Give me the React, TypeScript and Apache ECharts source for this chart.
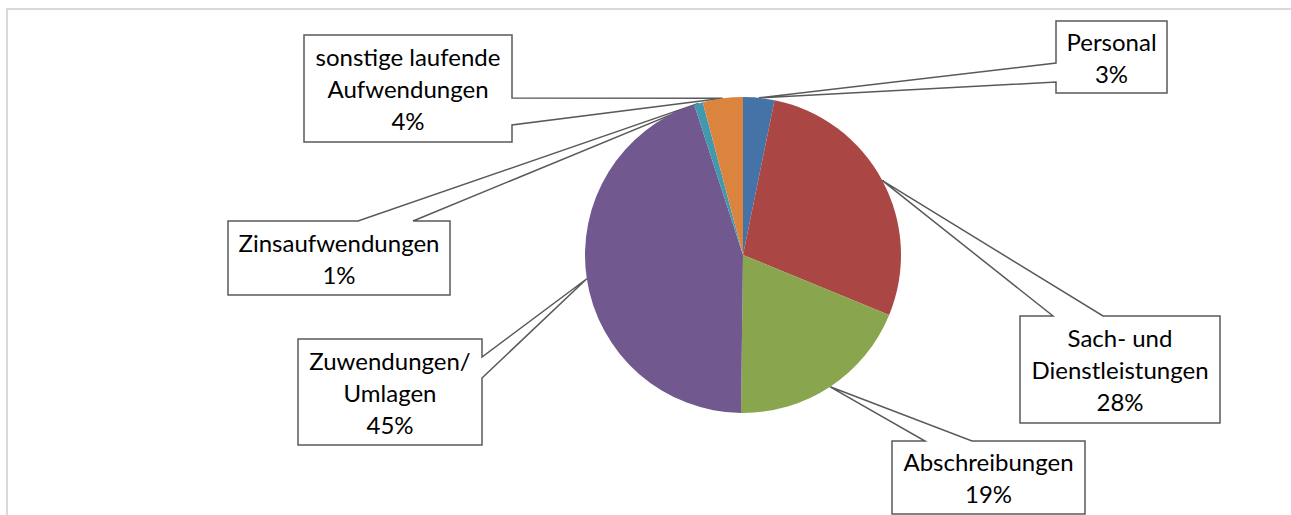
import React, { useEffect, useRef } from "react";
import * as echarts from "echarts";

const categories = [
  "Personal",
  "Sach- und Dienstleistungen",
  "Abschreibungen",
  "Zuwendungen/Umlagen",
  "Zinsaufwendungen",
  "sonstige laufende Aufwendungen",
];
const labelTexts = [
  "Personal",
  "Sach- und\nDienstleistungen",
  "Abschreibungen",
  "Zuwendungen/\nUmlagen",
  "Zinsaufwendungen",
  "sonstige laufende\nAufwendungen",
];
const values = [3.2, 28.0, 19.0, 44.8, 0.9, 4.1];
const colors = ["#4572A7", "#AA4643", "#89A54E", "#71588F", "#4198AF", "#DB843D"];

// Callout boxes (layout): x, y, w, h, side where the pointer attaches, and the pointer base span along that side
const callouts = [
  { x: 1056, y: 21, w: 111, h: 72, side: "left", from: 63, to: 82 },
  { x: 1020, y: 316, w: 200, h: 107, side: "top", from: 1053, to: 1103 },
  { x: 892, y: 441, w: 193, h: 73, side: "top", from: 925, to: 972 },
  { x: 298, y: 339, w: 184, h: 106, side: "right", from: 357, to: 378 },
  { x: 228, y: 221, w: 222, h: 74, side: "top", from: 358, to: 413 },
  { x: 304, y: 35, w: 208, h: 107, side: "right", from: 98, to: 125 },
];

const CX = 743;
const CY = 255;
const R = 158;

function tipPoint(i: number): number[] {
  const total = values.reduce((a, b) => a + b, 0);
  let start = 0;
  for (let k = 0; k < i; k++) start += values[k];
  const mid = ((start + values[i] / 2) / total) * Math.PI * 2;
  return [CX + R * Math.sin(mid), CY - R * Math.cos(mid)];
}

function outline(i: number, tip: number[]): number[][] {
  const c = callouts[i];
  const { x, y, w, h } = c;
  if (c.side === "left") {
    return [tip, [x, c.from], [x, y], [x + w, y], [x + w, y + h], [x, y + h], [x, c.to], tip];
  }
  if (c.side === "right") {
    return [tip, [x + w, c.from], [x + w, y], [x, y], [x, y + h], [x + w, y + h], [x + w, c.to], tip];
  }
  return [tip, [c.from, y], [x, y], [x, y + h], [x + w, y + h], [x + w, y], [c.to, y], tip];
}

export default function App() {
  const ref = useRef<HTMLDivElement>(null);
  useEffect(() => {
    document.body.style.margin = "0";
    if (!ref.current) return;
    const chart = echarts.init(ref.current, null, { renderer: "svg" });
    chart.setOption({
      animation: false,
      backgroundColor: "#ffffff",
      graphic: [
        {
          type: "rect",
          shape: { x: 7, y: 9, width: 1400, height: 700 },
          style: { fill: "none", stroke: "#D9D9D9", lineWidth: 2 },
          silent: true,
          z: -10,
        },
      ],
      series: [
        {
          type: "pie",
          center: [CX, CY],
          radius: R,
          startAngle: 90,
          clockwise: true,
          silent: true,
          avoidLabelOverlap: false,
          data: categories.map((name, i) => ({
            name,
            value: values[i],
            itemStyle: { color: colors[i] },
          })),
          itemStyle: { borderWidth: 0 },
          label: {
            show: true,
            position: "outside",
            formatter: (p: any) => `${labelTexts[p.dataIndex]}\n${Math.round(p.percent)}%`,
            fontFamily: "Lato",
            fontSize: 24,
            lineHeight: 32,
            color: "#000000",
            align: "center",
          },
          labelLine: {
            show: true,
            smooth: false,
            lineStyle: { color: "#595959", width: 1.5 },
          },
          labelLayout: (params: any) => {
            const i = params.dataIndex;
            const c = callouts[i];
            const tip = tipPoint(i);
            return {
              x: c.x + c.w / 2,
              y: c.y + c.h / 2,
              align: "center",
              verticalAlign: "middle",
              labelLinePoints: outline(i, tip),
            };
          },
          emphasis: { disabled: true },
        },
      ],
    });
    return () => chart.dispose();
  }, []);
  return <div ref={ref} style={{ width: 1291, height: 515 }} />;
}
